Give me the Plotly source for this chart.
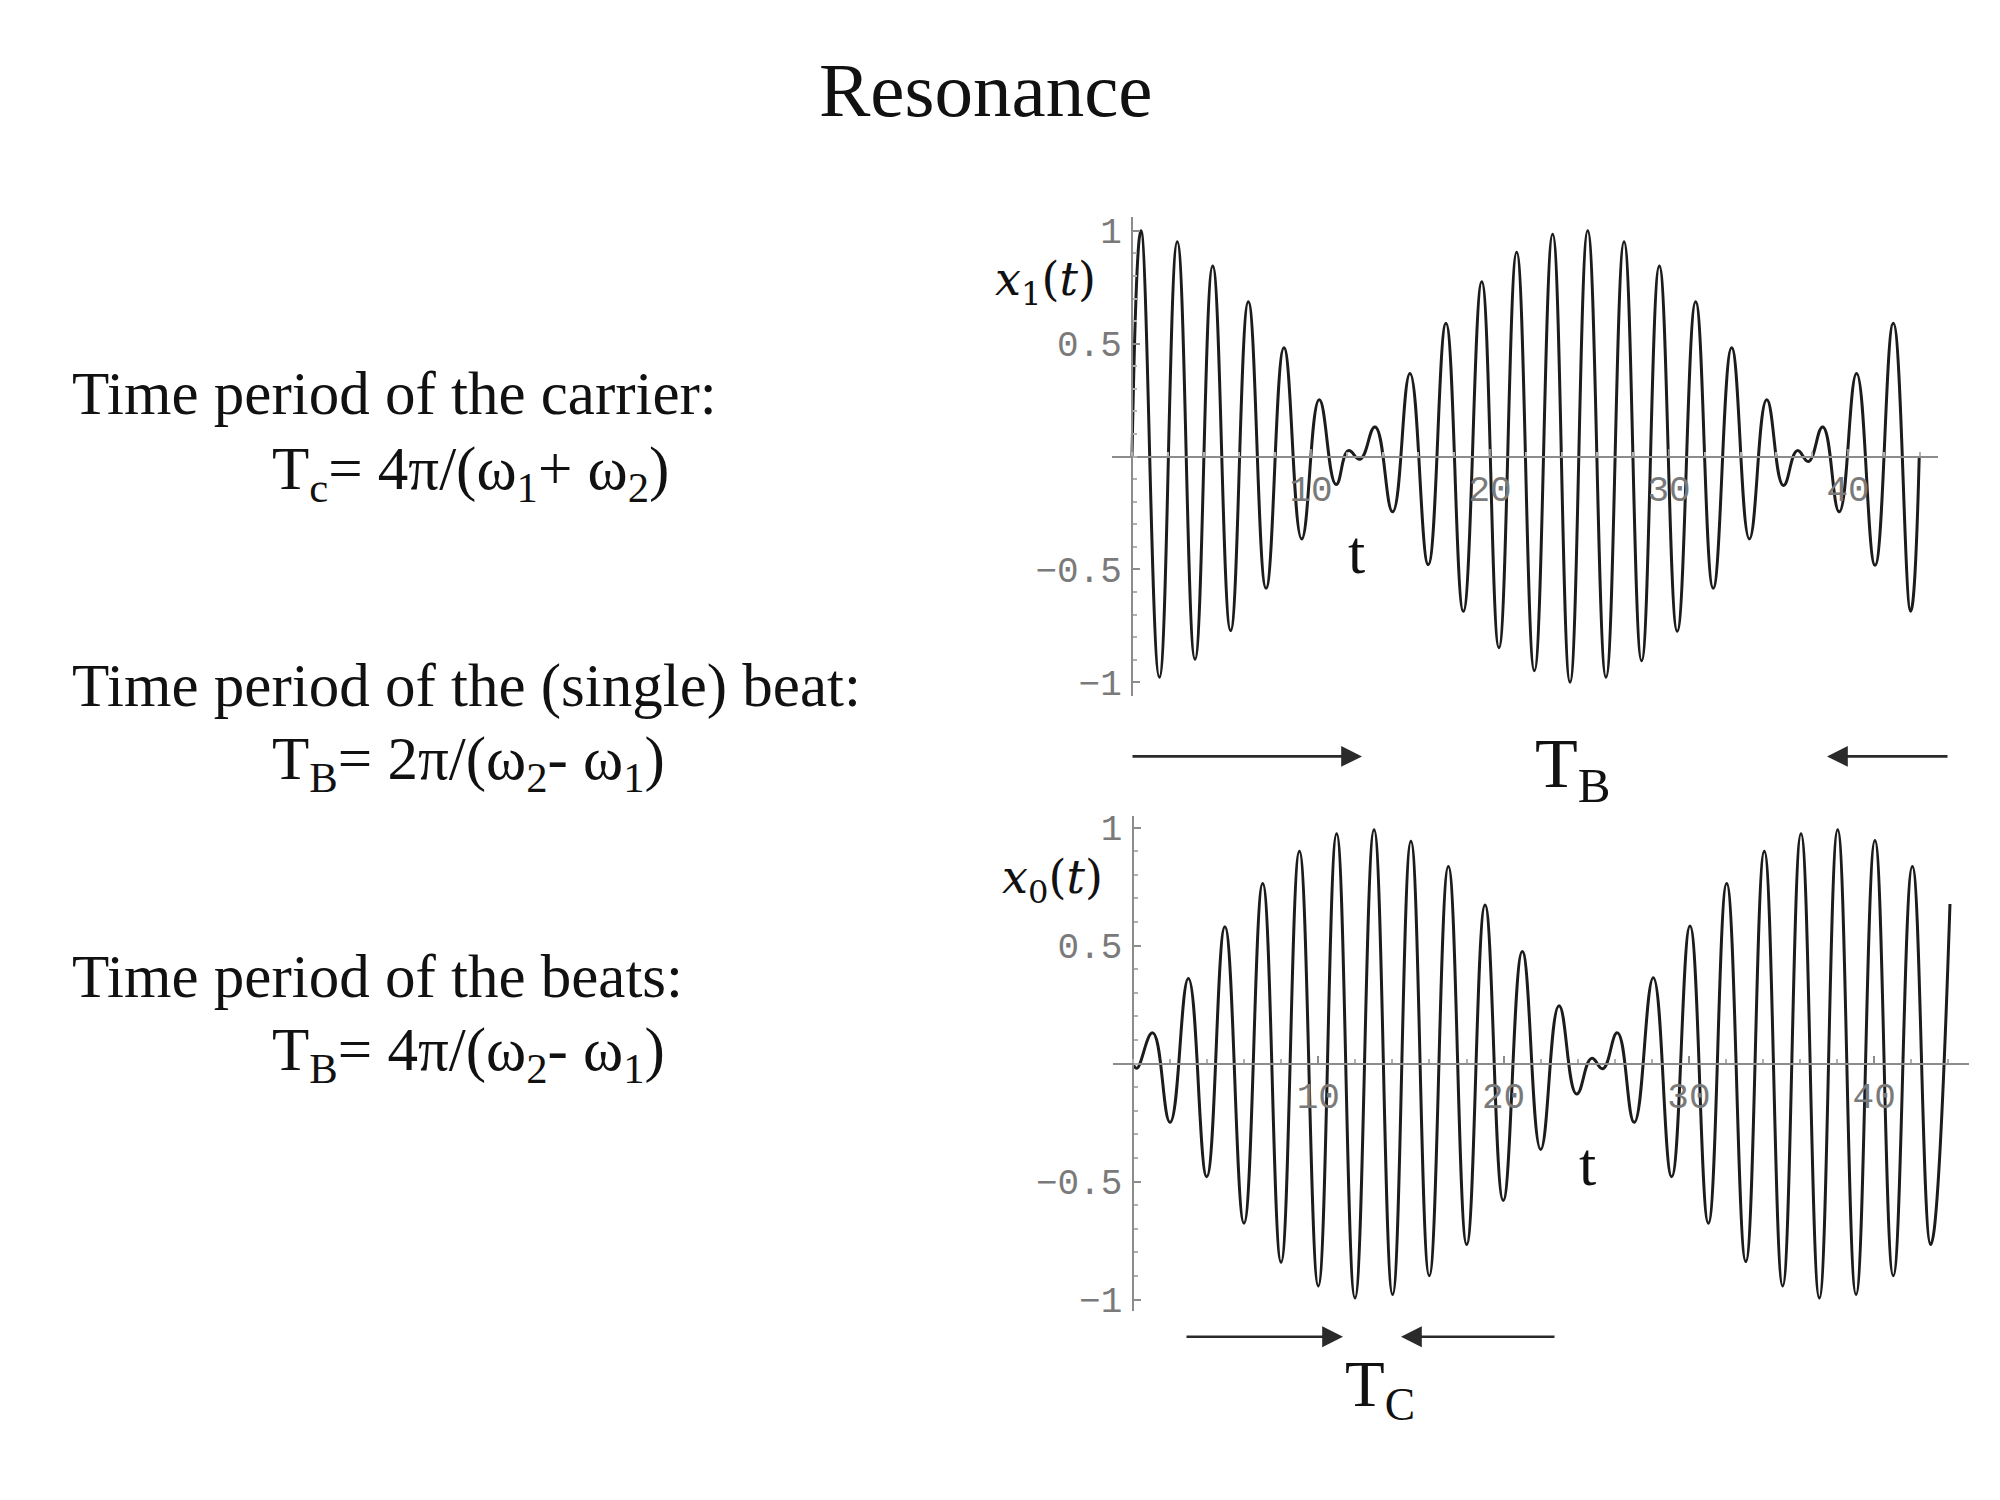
import plotly.graph_objects as go

# ---------------- data ----------------
# upper panel x1(t): successive extrema (t, value)
top_t = [0.0, 0.50, 1.53, 2.53, 3.52, 4.51, 5.51, 6.50, 7.49, 8.49, 9.48, 10.46,
         11.40, 12.09, 12.74, 13.58, 14.56, 15.53, 16.55, 17.54, 18.51, 19.54,
         20.50, 21.49, 22.48, 23.50, 24.47, 25.46, 26.48, 27.49, 28.47, 29.46,
         30.46, 31.49, 32.47, 33.50, 34.49, 35.46, 36.39, 37.17, 37.79, 38.59,
         39.51, 40.48, 41.51, 42.53, 43.50, 43.98]
top_x = [0.0, 1.0, -0.978, 0.952, -0.898, 0.844, -0.771, 0.686, -0.584, 0.482,
         -0.365, 0.251, -0.124, 0.026, -0.012, 0.131, -0.245, 0.368, -0.479,
         0.591, -0.686, 0.774, -0.847, 0.905, -0.949, 0.985, -1.0, 1.0, -0.978,
         0.952, -0.905, 0.844, -0.774, 0.686, -0.584, 0.482, -0.365, 0.251,
         -0.128, 0.026, -0.022, 0.131, -0.245, 0.368, -0.482, 0.591, -0.686, 0.0]

# lower panel x0(t): successive extrema (t, value)
bot_t = [0.0, 0.20, 1.06, 2.00, 2.99, 3.98, 4.96, 5.99, 7.00, 7.99, 8.98, 10.00,
         10.99, 11.98, 13.01, 14.01, 15.00, 15.99, 17.02, 18.01, 19.00, 19.98,
         21.01, 22.00, 22.99, 23.94, 24.75, 25.35, 26.14, 27.05, 28.08, 29.07,
         30.06, 31.05, 32.04, 33.07, 34.07, 35.06, 36.05, 37.04, 38.03, 39.02,
         40.04, 41.03, 42.06, 43.05, 44.09]
bot_x = [0.0, -0.02, 0.13, -0.249, 0.36, -0.479, 0.58, -0.676, 0.763, -0.842,
         0.899, -0.942, 0.974, -0.993, 0.99, -0.978, 0.942, -0.899, 0.835, -0.767,
         0.672, -0.58, 0.475, -0.364, 0.245, -0.129, 0.022, -0.022, 0.13, -0.249,
         0.364, -0.479, 0.583, -0.676, 0.763, -0.839, 0.899, -0.942, 0.974, -0.993,
         0.99, -0.978, 0.945, -0.899, 0.835, -0.767, 0.676]

x_tickvals = [10, 20, 30, 40]
x_ticktext = ["10", "20", "30", "40"]
y_tickvals = [-1, -0.5, 0.5, 1]
y_ticktext = ["\u22121", "\u22120.5", "0.5", "1"]

title_text = "Resonance"
left_lines = [
    "Time period of the carrier:",
    "T<sub>c</sub>= 4\u03c0/(\u03c9<sub>1</sub>+ \u03c9<sub>2</sub>)",
    "Time period of the (single) beat:",
    "T<sub>B</sub>= 2\u03c0/(\u03c9<sub>2</sub>- \u03c9<sub>1</sub>)",
    "Time period of the beats:",
    "T<sub>B</sub>= 4\u03c0/(\u03c9<sub>2</sub>- \u03c9<sub>1</sub>)",
]
top_ylabel = "<i>x</i><sub>1</sub>(<i>t</i>)"
bot_ylabel = "<i>x</i><sub>0</sub>(<i>t</i>)"
t_label = "t"
tb_label = "T<sub>B</sub>"
tc_label = "T<sub>C</sub>"

# ---------------- figure ----------------
W, H = 2000, 1500
SERIF = "Liberation Serif, Times New Roman, serif"
MONO = "Liberation Mono, Courier New, monospace"
AXC = "#8c8c8c"
TICKFONT = dict(family=MONO, size=36, color="#7a7a7a")
CURVE = dict(color="#1c1c1c", width=3.0, shape="spline", smoothing=1.3)


def px(x):
    return x / W


def py(y):
    return 1 - y / H


fig = go.Figure()
fig.add_trace(go.Scatter(x=top_t, y=top_x, mode="lines", line=CURVE,
                         xaxis="x", yaxis="y", hoverinfo="skip"))
fig.add_trace(go.Scatter(x=bot_t, y=bot_x, mode="lines", line=CURVE,
                         xaxis="x2", yaxis="y2", hoverinfo="skip"))


def xaxis_cfg(domain, rng, pos):
    return dict(domain=domain, range=rng, anchor="free", position=pos,
                showline=True, linecolor=AXC, linewidth=2,
                tickmode="array", tickvals=x_tickvals, ticktext=x_ticktext,
                ticks="inside", ticklen=7, tickwidth=2, tickcolor=AXC,
                minor=dict(tickmode="linear", tick0=0, dtick=2, ticks="inside",
                           ticklen=4, tickwidth=1.5, tickcolor="#b0b0b0"),
                tickfont=TICKFONT, showgrid=False, zeroline=False, fixedrange=True)


def yaxis_cfg(domain, rng, pos):
    return dict(domain=domain, range=rng, anchor="free", position=pos,
                showline=True, linecolor=AXC, linewidth=2,
                tickmode="array", tickvals=y_tickvals, ticktext=y_ticktext,
                ticks="inside", ticklen=7, tickwidth=2, tickcolor=AXC,
                minor=dict(tickmode="linear", tick0=0, dtick=0.1, ticks="inside",
                           ticklen=4, tickwidth=1.5, tickcolor="#b0b0b0"),
                ticklabelstandoff=2,
                tickfont=TICKFONT, showgrid=False, zeroline=False, fixedrange=True)


fig.update_layout(
    width=W, height=H,
    margin=dict(l=0, r=0, t=0, b=0),
    paper_bgcolor="white", plot_bgcolor="rgba(0,0,0,0)",
    showlegend=False,
    xaxis=xaxis_cfg([px(1112.3), px(1937.5)], [-1.1, 45.0], py(456.7)),
    yaxis=yaxis_cfg([py(698.7), py(214.7)], [-1.06, 1.06], px(1132)),
    xaxis2=xaxis_cfg([px(1112.6), px(1968.7)], [-1.1, 45.1], py(1070.7)),
    yaxis2=yaxis_cfg([py(1321.4), py(820.0)], [-1.05, 1.05], px(1132.5)),
)

ann = []


def text(x, y, s, size, xanchor="left", family=SERIF, color="#111111"):
    ann.append(dict(x=px(x), y=py(y), xref="paper", yref="paper", text=s,
                    showarrow=False, xanchor=xanchor, yanchor="middle",
                    font=dict(family=family, size=size, color=color)))


# title
text(986, 86, title_text, 77, xanchor="center")

# left explanatory text (x, centre y)
left_pos = [(70, 393), (270, 473), (70, 689), (270, 767), (70, 983), (270, 1061)]
for (lx, ly), s in zip(left_pos, left_lines):
    text(lx, ly, s, 61)

# axis labels
text(1045, 281, top_ylabel, 46, xanchor="center", family="DejaVu Serif, serif")
text(1052, 886, bot_ylabel, 46, xanchor="center", family="DejaVu Serif, serif")
text(1356, 553, t_label, 62, xanchor="center")
text(1587, 1172, t_label, 62, xanchor="center")

# period labels
text(1572, 773, tb_label, 70, xanchor="center")
text(1380, 1400, tc_label, 65, xanchor="center")


def arrow(hx, hy, tx, ty):
    ann.append(dict(x=px(hx), y=py(hy), xref="paper", yref="paper",
                    ax=tx - hx, ay=ty - hy, text="", showarrow=True,
                    arrowhead=2, arrowsize=1.6, arrowwidth=2.6, arrowcolor="#2a2a2a",
                    standoff=0, startstandoff=0))


arrow(1362, 760, 1131, 760)
arrow(1827, 760, 1949, 760)
arrow(1343, 1347, 1185, 1347)
arrow(1401, 1347, 1556, 1347)

fig.update_layout(annotations=ann)
fig.write_html("out.html")
